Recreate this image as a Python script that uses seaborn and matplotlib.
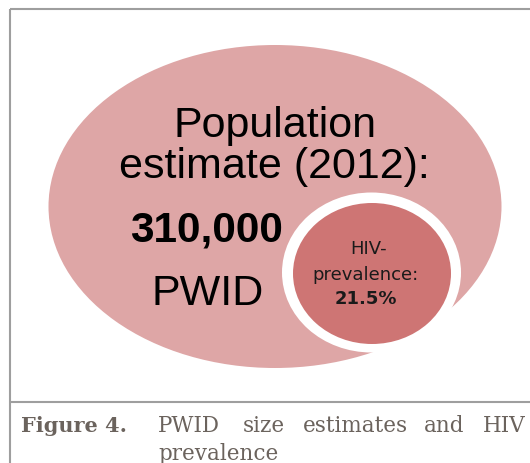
import matplotlib
matplotlib.use("Agg")
import matplotlib.pyplot as plt
from matplotlib.patches import Ellipse
import seaborn as sns

# Figure content
population_estimate = 310000
estimate_year = 2012
group_label = "PWID"
hiv_prevalence = 21.5

outer_title = ["Population", f"estimate ({estimate_year}):"]
inner_title = ["HIV-", "prevalence:"]

caption_label = "Figure 4."
caption_line1 = ["PWID", "size", "estimates", "and", "HIV"]
caption_line2 = "prevalence"

outer_color = "#DEA6A6"
inner_color = "#CE7574"
caption_color = "#6B635D"
frame_color = "#9E9E9E"

sns.set_theme(style="white")

W, H = 530, 464
fig = plt.figure(figsize=(W / 100, H / 100), dpi=100)
ax = fig.add_axes([0, 0, 1, 1])
ax.set_xlim(0, W)
ax.set_ylim(H, 0)
ax.axis("off")

# Frame around the figure and the caption separator
lw = 1.5
ax.plot([10, W], [10, 10], color=frame_color, lw=lw, solid_capstyle="butt")
ax.plot([10, 10], [10, H], color=frame_color, lw=lw, solid_capstyle="butt")
ax.plot([10, W], [403, 403], color=frame_color, lw=lw, solid_capstyle="butt")

# Bubbles: population (outer) and HIV prevalence (inner, with white ring)
ax.add_patch(Ellipse((275, 207.5), 453, 323, color=outer_color, lw=0))
ax.add_patch(Ellipse((371.5, 273.5), 179, 160, color="white", lw=0))
ax.add_patch(Ellipse((372, 274.5), 158, 141, color=inner_color, lw=0))

big_font = ["Liberation Sans", "DejaVu Sans"]
ax.text(275, 137, outer_title[0], fontsize=31, family=big_font,
        ha="center", va="baseline", color="black")
ax.text(274, 178, outer_title[1], fontsize=31, family=big_font,
        ha="center", va="baseline", color="black")
ax.text(206, 242, f"{population_estimate:,}", fontsize=30.5, family=big_font,
        fontweight="bold", ha="center", va="baseline", color="black")
ax.text(208, 305, group_label, fontsize=31, family=big_font,
        ha="center", va="baseline", color="black")

small_font = ["DejaVu Sans"]
ax.text(369, 254, inner_title[0], fontsize=13, family=small_font,
        ha="center", va="baseline", color="#1a1a1a")
ax.text(366, 280, inner_title[1], fontsize=13, family=small_font,
        ha="center", va="baseline", color="#1a1a1a")
ax.text(366, 304, f"{hiv_prevalence}%", fontsize=13, family=small_font,
        fontweight="bold", ha="center", va="baseline", color="#1a1a1a")

# Caption (justified first line)
serif = ["DejaVu Serif"]
ax.text(21, 432, caption_label, fontsize=15, family=serif, fontweight="bold",
        ha="left", va="baseline", color=caption_color)
word_x = [158, 243, 303, 424, 526]
for i, (word, x) in enumerate(zip(caption_line1, word_x)):
    ax.text(x, 432, word, fontsize=15.5, family=serif,
            ha="right" if i == len(caption_line1) - 1 else "left",
            va="baseline", color=caption_color)
ax.text(158, 460, caption_line2, fontsize=15.5, family=serif,
        ha="left", va="baseline", color=caption_color)

fig.savefig("out.png", dpi=100, facecolor="white")
